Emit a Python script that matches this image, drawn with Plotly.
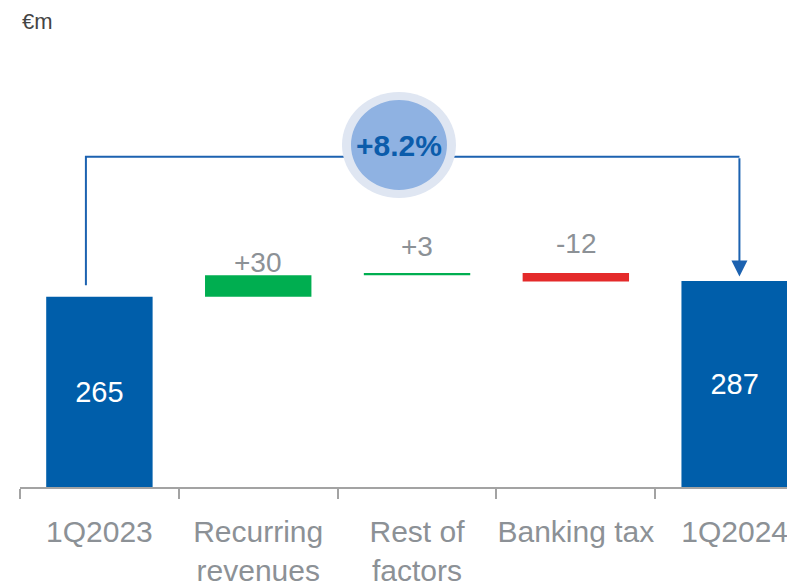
import plotly.graph_objects as go

# ---- data ----
categories = ["1Q2023", "Recurring<br>revenues", "Rest of<br>factors", "Banking tax", "1Q2024"]
start_value = 265
deltas = [30, 3, -12]
end_value = 287
delta_labels = ["+30", "+3", "-12"]
growth_label = "+8.2%"
unit_label = "€m"

# ---- style ----
BLUE = "#005eaa"
GREEN = "#00ae50"
RED = "#e42a2a"
LINE_BLUE = "#1c62b0"
GREY_TXT = "#8c9196"
FONT = "Liberation Sans, Arial, sans-serif"
label_lift = [13, 26, 29]      # px lift of delta labels above their bars
bracket_level = 460            # y level of the bracket line (axis units)

# ---- derived bar geometry ----
xs = list(range(len(categories)))
bases, heights, colors = [0], [start_value], [BLUE]
running = start_value
for d in deltas:
    bases.append(min(running, running + d))
    heights.append(abs(d))
    colors.append(GREEN if d >= 0 else RED)
    running += d
bases.append(0)
heights.append(end_value)
colors.append(BLUE)

texts = [str(start_value)] + [""] * len(deltas) + [str(end_value)]

fig = go.Figure()
fig.add_trace(go.Bar(
    x=xs, y=heights, base=bases,
    marker=dict(color=colors, line=dict(width=0)),
    width=0.67,
    text=texts, textposition="inside", insidetextanchor="middle",
    textfont=dict(color="white", size=29, family=FONT),
    hoverinfo="skip", showlegend=False,
))

# bracket (left leg + top line)
left_x = xs[0] - 0.085
right_x = xs[-1] + 0.03
fig.add_trace(go.Scatter(
    x=[left_x, left_x, right_x, right_x],
    y=[start_value + 16, bracket_level, bracket_level, bracket_level],
    mode="lines", line=dict(color=LINE_BLUE, width=2),
    hoverinfo="skip", showlegend=False,
))
# right leg with arrow head
fig.add_annotation(
    x=right_x, y=end_value + 6, xref="x", yref="y",
    ax=right_x, ay=bracket_level, axref="x", ayref="y",
    showarrow=True, arrowhead=2, arrowsize=1.6, arrowwidth=2,
    arrowcolor=LINE_BLUE, text="",
)

# delta labels
for i, (lab, lift) in enumerate(zip(delta_labels, label_lift)):
    k = i + 1
    fig.add_annotation(
        x=xs[k], y=bases[k] + heights[k], xref="x", yref="y",
        text=lab, showarrow=False, yanchor="middle", yshift=lift,
        font=dict(size=28, color=GREY_TXT, family=FONT),
    )

# growth bubble
cx, cy = 0.489, 0.714
fig.add_shape(type="circle", xref="paper", yref="paper",
              xsizemode="pixel", ysizemode="pixel", xanchor=cx, yanchor=cy,
              x0=-57, x1=57, y0=-53, y1=53,
              fillcolor="#dfe6f2", line=dict(width=0), layer="above")
fig.add_shape(type="circle", xref="paper", yref="paper",
              xsizemode="pixel", ysizemode="pixel", xanchor=cx, yanchor=cy,
              x0=-48, x1=48, y0=-45, y1=45,
              fillcolor="#8fb2e2", line=dict(width=0), layer="above")
fig.add_annotation(x=cx, y=cy, xref="paper", yref="paper", text=f"<b>{growth_label}</b>",
                   showarrow=False, xanchor="center", yanchor="middle", yshift=-1,
                   font=dict(size=30, color="#0b5cab", family=FONT))

# unit label
fig.add_annotation(x=0.0, y=0.971, xref="paper", yref="paper", text=unit_label,
                   showarrow=False, xanchor="left", yanchor="middle",
                   font=dict(size=22, color="#444444", family=FONT))

# page body has an 8px margin, so the figure is drawn 8px smaller
fig.update_layout(
    width=787, height=576,
    margin=dict(l=12, r=0, t=0, b=97),
    paper_bgcolor="white", plot_bgcolor="white",
    font=dict(family=FONT),
)
fig.update_xaxes(
    range=[-0.5, 4.38], tickvals=xs, ticktext=categories,
    ticks="", showgrid=False, zeroline=False,
    showline=True, linecolor="#a3a3a3", linewidth=1.5,
    tickfont=dict(size=30, color=GREY_TXT, family=FONT),
    ticklabelstandoff=17, automargin=False,
    minor=dict(tickvals=[x - 0.5 for x in xs], ticks="outside", ticklen=10,
               tickcolor="#a3a3a3", tickwidth=1.5, showgrid=False),
)
fig.update_yaxes(range=[0, 667], visible=False, automargin=False)

fig.write_html("out.html")
